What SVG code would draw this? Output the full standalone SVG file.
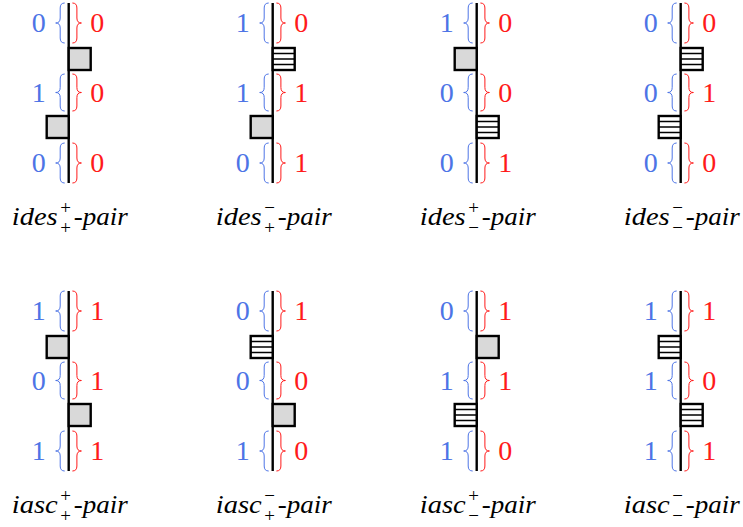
<svg xmlns="http://www.w3.org/2000/svg" xmlns:xlink="http://www.w3.org/1999/xlink" width="743" height="527" viewBox="0 0 743 527" font-family="Liberation Serif, DejaVu Serif, serif">
<style>
.ax{stroke:#000;stroke-width:2.4}
.bl{stroke:#4d74e6;stroke-width:1}
.rd{stroke:#ff1a1a;stroke-width:1}
.nb{font-size:28px;fill:#4d74e6;text-anchor:middle}
.nr{font-size:28px;fill:#ff1a1a;text-anchor:middle}
.lb{font-style:italic;font-size:26px;fill:#000}
.ss{font-size:19px;fill:#000;text-anchor:middle}
</style>
<defs>
<path id="lb40" fill="none" d="M0,0 Q-4.5,0 -4.5,5 L-4.5,15 Q-4.5,20 -9,20 Q-4.5,20 -4.5,25 L-4.5,35 Q-4.5,40 0,40"/>
<path id="lb37" fill="none" d="M0,0 Q-4.5,0 -4.5,5 L-4.5,13.5 Q-4.5,18.5 -9,18.5 Q-4.5,18.5 -4.5,23.5 L-4.5,32 Q-4.5,37 0,37"/>
<path id="rb40" fill="none" d="M0,0 Q4.5,0 4.5,5 L4.5,15 Q4.5,20 9,20 Q4.5,20 4.5,25 L4.5,35 Q4.5,40 0,40"/>
<path id="rb37" fill="none" d="M0,0 Q4.5,0 4.5,5 L4.5,13.5 Q4.5,18.5 9,18.5 Q4.5,18.5 4.5,23.5 L4.5,32 Q4.5,37 0,37"/>
<rect id="sq" width="22" height="22" fill="#d9d9d9" stroke="#000" stroke-width="2.4"/>
<g id="hs">
<rect width="22" height="22" fill="#fff" stroke="#000" stroke-width="2.4"/>
<path d="M0,5.5 H22 M0,11 H22 M0,16.5 H22" stroke="#000" stroke-width="1.4" fill="none"/>
</g>
<g id="frame">
<line class="ax" x1="0" y1="3" x2="0" y2="183"/>
<use xlink:href="#lb40" class="bl" x="-4" y="3"/>
<use xlink:href="#lb37" class="bl" x="-4" y="74"/>
<use xlink:href="#lb40" class="bl" x="-4" y="143"/>
<use xlink:href="#rb40" class="rd" x="3.7" y="3"/>
<use xlink:href="#rb37" class="rd" x="3.7" y="74"/>
<use xlink:href="#rb40" class="rd" x="3.7" y="143"/>
</g>
</defs>

<g id="p1" transform="translate(68.7,0)">
<use xlink:href="#frame"/>
<use xlink:href="#sq" x="0" y="48"/>
<use xlink:href="#sq" x="-22" y="116"/>
<text class="nb" x="-30" y="32">0</text><text class="nb" x="-30" y="102">1</text><text class="nb" x="-30" y="172">0</text>
<text class="nr" x="28.5" y="32">0</text><text class="nr" x="28.5" y="102">0</text><text class="nr" x="28.5" y="172">0</text>
<text class="lb" x="-57" y="225" textLength="46" lengthAdjust="spacingAndGlyphs">ides</text>
<text class="ss" x="-3" y="214">+</text><text class="ss" x="-3" y="234">+</text>
<text class="lb" x="5" y="225" textLength="54" lengthAdjust="spacingAndGlyphs">-pair</text>
</g>

<g id="p2" transform="translate(272.7,0)">
<use xlink:href="#frame"/>
<use xlink:href="#hs" x="0" y="48"/>
<use xlink:href="#sq" x="-22" y="116"/>
<text class="nb" x="-30" y="32">1</text><text class="nb" x="-30" y="102">1</text><text class="nb" x="-30" y="172">0</text>
<text class="nr" x="28.5" y="32">0</text><text class="nr" x="28.5" y="102">1</text><text class="nr" x="28.5" y="172">1</text>
<text class="lb" x="-57" y="225" textLength="46" lengthAdjust="spacingAndGlyphs">ides</text>
<text class="ss" x="-3" y="214">−</text><text class="ss" x="-3" y="234">+</text>
<text class="lb" x="5" y="225" textLength="54" lengthAdjust="spacingAndGlyphs">-pair</text>
</g>

<g id="p3" transform="translate(476.7,0)">
<use xlink:href="#frame"/>
<use xlink:href="#sq" x="-22" y="48"/>
<use xlink:href="#hs" x="0" y="116"/>
<text class="nb" x="-30" y="32">1</text><text class="nb" x="-30" y="102">0</text><text class="nb" x="-30" y="172">0</text>
<text class="nr" x="28.5" y="32">0</text><text class="nr" x="28.5" y="102">0</text><text class="nr" x="28.5" y="172">1</text>
<text class="lb" x="-57" y="225" textLength="46" lengthAdjust="spacingAndGlyphs">ides</text>
<text class="ss" x="-3" y="214">+</text><text class="ss" x="-3" y="234">−</text>
<text class="lb" x="5" y="225" textLength="54" lengthAdjust="spacingAndGlyphs">-pair</text>
</g>

<g id="p4" transform="translate(680.7,0)">
<use xlink:href="#frame"/>
<use xlink:href="#hs" x="0" y="48"/>
<use xlink:href="#hs" x="-22" y="116"/>
<text class="nb" x="-30" y="32">0</text><text class="nb" x="-30" y="102">0</text><text class="nb" x="-30" y="172">0</text>
<text class="nr" x="28.5" y="32">0</text><text class="nr" x="28.5" y="102">1</text><text class="nr" x="28.5" y="172">0</text>
<text class="lb" x="-57" y="225" textLength="46" lengthAdjust="spacingAndGlyphs">ides</text>
<text class="ss" x="-3" y="214">−</text><text class="ss" x="-3" y="234">−</text>
<text class="lb" x="5" y="225" textLength="54" lengthAdjust="spacingAndGlyphs">-pair</text>
</g>

<g id="p5" transform="translate(68.7,288)">
<use xlink:href="#frame"/>
<use xlink:href="#sq" x="-22" y="48"/>
<use xlink:href="#sq" x="0" y="116"/>
<text class="nb" x="-30" y="32">1</text><text class="nb" x="-30" y="102">0</text><text class="nb" x="-30" y="172">1</text>
<text class="nr" x="28.5" y="32">1</text><text class="nr" x="28.5" y="102">1</text><text class="nr" x="28.5" y="172">1</text>
<text class="lb" x="-57" y="225" textLength="46" lengthAdjust="spacingAndGlyphs">iasc</text>
<text class="ss" x="-3" y="214">+</text><text class="ss" x="-3" y="234">+</text>
<text class="lb" x="5" y="225" textLength="54" lengthAdjust="spacingAndGlyphs">-pair</text>
</g>

<g id="p6" transform="translate(272.7,288)">
<use xlink:href="#frame"/>
<use xlink:href="#hs" x="-22" y="48"/>
<use xlink:href="#sq" x="0" y="116"/>
<text class="nb" x="-30" y="32">0</text><text class="nb" x="-30" y="102">0</text><text class="nb" x="-30" y="172">1</text>
<text class="nr" x="28.5" y="32">1</text><text class="nr" x="28.5" y="102">0</text><text class="nr" x="28.5" y="172">0</text>
<text class="lb" x="-57" y="225" textLength="46" lengthAdjust="spacingAndGlyphs">iasc</text>
<text class="ss" x="-3" y="214">−</text><text class="ss" x="-3" y="234">+</text>
<text class="lb" x="5" y="225" textLength="54" lengthAdjust="spacingAndGlyphs">-pair</text>
</g>

<g id="p7" transform="translate(476.7,288)">
<use xlink:href="#frame"/>
<use xlink:href="#sq" x="0" y="48"/>
<use xlink:href="#hs" x="-22" y="116"/>
<text class="nb" x="-30" y="32">0</text><text class="nb" x="-30" y="102">1</text><text class="nb" x="-30" y="172">1</text>
<text class="nr" x="28.5" y="32">1</text><text class="nr" x="28.5" y="102">1</text><text class="nr" x="28.5" y="172">0</text>
<text class="lb" x="-57" y="225" textLength="46" lengthAdjust="spacingAndGlyphs">iasc</text>
<text class="ss" x="-3" y="214">+</text><text class="ss" x="-3" y="234">−</text>
<text class="lb" x="5" y="225" textLength="54" lengthAdjust="spacingAndGlyphs">-pair</text>
</g>

<g id="p8" transform="translate(680.7,288)">
<use xlink:href="#frame"/>
<use xlink:href="#hs" x="-22" y="48"/>
<use xlink:href="#hs" x="0" y="116"/>
<text class="nb" x="-30" y="32">1</text><text class="nb" x="-30" y="102">1</text><text class="nb" x="-30" y="172">1</text>
<text class="nr" x="28.5" y="32">1</text><text class="nr" x="28.5" y="102">0</text><text class="nr" x="28.5" y="172">1</text>
<text class="lb" x="-57" y="225" textLength="46" lengthAdjust="spacingAndGlyphs">iasc</text>
<text class="ss" x="-3" y="214">−</text><text class="ss" x="-3" y="234">−</text>
<text class="lb" x="5" y="225" textLength="54" lengthAdjust="spacingAndGlyphs">-pair</text>
</g>
</svg>
